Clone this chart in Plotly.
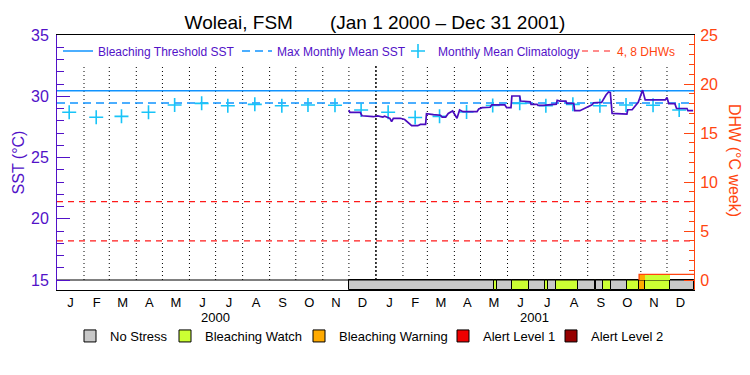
import pandas as pd
import plotly.graph_objects as go

# ---------------- data ----------------
sst_dates = [
    "2000-12-01", "2000-12-02", "2000-12-14", "2000-12-16", "2000-12-29",
    "2001-01-03", "2001-01-09", "2001-01-11", "2001-01-17", "2001-01-19",
    "2001-01-21", "2001-01-29", "2001-02-03", "2001-02-07", "2001-02-11",
    "2001-02-18", "2001-02-21", "2001-02-27", "2001-02-28", "2001-03-08",
    "2001-03-16", "2001-03-18", "2001-03-22", "2001-03-25", "2001-03-30",
    "2001-04-04", "2001-04-07", "2001-04-11", "2001-04-27", "2001-04-29",
    "2001-05-03", "2001-05-12", "2001-05-14", "2001-05-29", "2001-05-31",
    "2001-06-05", "2001-06-06", "2001-06-15", "2001-06-16", "2001-06-27",
    "2001-06-28", "2001-07-05", "2001-07-06", "2001-07-12", "2001-07-22",
    "2001-07-27", "2001-07-28", "2001-07-31", "2001-08-07", "2001-08-08",
    "2001-08-16", "2001-08-17", "2001-08-23", "2001-08-31", "2001-09-06",
    "2001-09-08", "2001-09-17", "2001-09-22", "2001-09-25", "2001-09-27",
    "2001-09-29", "2001-10-16", "2001-10-17", "2001-10-22", "2001-10-24",
    "2001-10-29", "2001-11-01", "2001-11-03", "2001-11-06", "2001-11-29",
    "2001-12-01", "2001-12-03", "2001-12-10", "2001-12-12", "2001-12-24",
    "2001-12-25", "2001-12-31",
]
sst_values = [
    28.88, 28.69, 28.69, 28.41, 28.33,
    28.40, 28.30, 28.38, 28.20, 27.92,
    28.20, 28.20, 28.10, 27.85, 27.60,
    27.60, 27.70, 27.70, 28.58, 28.50,
    28.45, 28.30, 28.30, 28.60, 28.80,
    28.20, 28.88, 28.74, 28.74, 28.96,
    29.07, 29.10, 29.29, 29.29, 29.07,
    29.07, 30.02, 30.02, 29.61, 29.55,
    29.34, 29.34, 29.25, 29.25, 29.30,
    29.35, 29.67, 29.60, 29.60, 29.42,
    29.42, 28.82, 28.82, 29.10, 29.30,
    29.47, 29.50, 30.10, 30.35, 30.30,
    28.60, 28.55, 28.90, 28.90, 29.10,
    29.50, 30.10, 30.50, 29.70, 29.70,
    29.90, 29.40, 29.40, 29.00, 29.00,
    28.82, 28.82,
]

clim_dates = [
    "2000-01-15", "2000-02-15", "2000-03-15", "2000-04-15", "2000-05-15", "2000-06-15",
    "2000-07-15", "2000-08-15", "2000-09-15", "2000-10-15", "2000-11-15", "2000-12-15",
    "2001-01-15", "2001-02-15", "2001-03-15", "2001-04-15", "2001-05-15", "2001-06-15",
    "2001-07-15", "2001-08-15", "2001-09-15", "2001-10-15", "2001-11-15", "2001-12-15",
]
clim_values = [
    28.69, 28.28, 28.36, 28.69, 29.29, 29.42, 29.23, 29.34, 29.23, 29.29, 29.26, 28.88,
    28.69, 28.26, 28.36, 28.72, 29.25, 29.42, 29.23, 29.34, 29.23, 29.29, 29.26, 28.88,
]

mmm_sst = 29.45
threshold_sst = 30.45
dhw_levels = [4, 8]

dhw_dates = ["2001-10-30", "2001-10-30", "2002-01-01"]
dhw_values = [0.0, 0.58, 0.58]

stress_edges = [
    "2000-12-01", "2001-05-16", "2001-05-20", "2001-06-06", "2001-06-26",
    "2001-07-14", "2001-07-17", "2001-07-27", "2001-08-21", "2001-09-09",
    "2001-09-11", "2001-09-19", "2001-09-28", "2001-10-16", "2001-10-30",
    "2001-11-06", "2001-12-05", "2002-01-01",
]
stress_levels = [
    "No Stress", "Bleaching Watch", "No Stress", "Bleaching Watch", "No Stress",
    "Bleaching Watch", "No Stress", "Bleaching Watch", "No Stress", "Bleaching Watch",
    "No Stress", "Bleaching Watch", "No Stress", "Bleaching Watch", "Bleaching Warning",
    "Bleaching Watch", "No Stress",
]

month_letters = ["J", "F", "M", "A", "M", "J", "J", "A", "S", "O", "N", "D"] * 2
years = ["2000", "2001"]

# ---------------- styles ----------------
FONT = "Liberation Sans, Arial, sans-serif"
PURPLE = "#5212c8"
SST_COLOR = "#4a0cbf"
BLUE = "#1094ff"
CYAN = "#18c4f8"
RED = "#ff1a1a"
ORANGE_RED = "#ff4510"
level_colors = {
    "No Stress": "#c8c8c8",
    "Bleaching Watch": "#ccff33",
    "Bleaching Warning": "#ffaa00",
    "Alert Level 1": "#ee0000",
    "Alert Level 2": "#960000",
}

SST_MIN, SST_MAX = 15 - 10 / 12.25, 35
DHW_MIN, DHW_MAX = -10 / 9.8, 25
X0, X1 = pd.Timestamp("2000-01-01"), pd.Timestamp("2002-01-01")

fig = go.Figure()

# month grid (dotted) drawn as lines
bounds = pd.date_range("2000-02-01", "2001-12-01", freq="MS")
gx, gy = [], []
for b in bounds:
    if b == pd.Timestamp("2001-01-01"):
        continue
    gx += [b, b, None]
    gy += [15, 32.5, None]
fig.add_trace(go.Scatter(x=gx, y=gy, mode="lines", line=dict(color="black", width=1, dash="1px,3px"),
                         showlegend=False, hoverinfo="skip"))
fig.add_trace(go.Scatter(x=[pd.Timestamp("2001-01-01")] * 2, y=[15, 32.5], mode="lines",
                         line=dict(color="black", width=1.5, dash="2px,2px"), showlegend=False, hoverinfo="skip"))

# stress bar
edges = pd.to_datetime(stress_edges)
leg_ids = {"No Stress": "legend5", "Bleaching Watch": "legend6", "Bleaching Warning": "legend7",
           "Alert Level 1": "legend8", "Alert Level 2": "legend9"}
for name, color in level_colors.items():
    idx = [i for i, l in enumerate(stress_levels) if l == name]
    xs = [edges[i] for i in idx]
    ws = [(edges[i + 1] - edges[i]).total_seconds() * 1000 for i in idx]
    if not idx:
        xs, ws = [None], [0]
    fig.add_trace(go.Bar(x=xs, y=[15 - SST_MIN] * len(xs), base=SST_MIN, width=ws, offset=0,
                         marker=dict(color=color, line=dict(color="black", width=1)),
                         name=name, legend=leg_ids[name], hoverinfo="skip"))

# baseline of stress bar
fig.add_trace(go.Scatter(x=[X0, X1], y=[15, 15], mode="lines", line=dict(color="black", width=1),
                         showlegend=False, hoverinfo="skip"))

# DHW fill coloured by stress (only for stress days)
for i, l in enumerate(stress_levels):
    if edges[i] >= pd.Timestamp(dhw_dates[1]) and l != "No Stress":
        fig.add_trace(go.Bar(x=[edges[i]], y=[dhw_values[1]], base=0, offset=0,
                             width=[(edges[i + 1] - edges[i]).total_seconds() * 1000],
                             marker=dict(color=level_colors[l], line=dict(width=0)),
                             yaxis="y2", showlegend=False, hoverinfo="skip"))

# reference lines
fig.add_trace(go.Scatter(x=[X0, X1], y=[threshold_sst] * 2, mode="lines",
                         line=dict(color=BLUE, width=1.5), name="Bleaching Threshold SST", legend="legend"))
fig.add_trace(go.Scatter(x=[X0, X1], y=[mmm_sst] * 2, mode="lines",
                         line=dict(color=BLUE, width=1.5, dash="8px,5px"), name="Max Monthly Mean SST",
                         legend="legend2"))
dx, dy = [], []
for v in dhw_levels:
    dx += [X0, X1, None]
    dy += [v, v, None]
fig.add_trace(go.Scatter(x=dx, y=dy, mode="lines", yaxis="y2",
                         line=dict(color=RED, width=1.2, dash="6px,5px"), name="4, 8 DHWs", legend="legend4"))

# climatology
fig.add_trace(go.Scatter(x=clim_dates, y=clim_values, mode="markers",
                         marker=dict(symbol="cross-thin", size=10, line=dict(color=CYAN, width=1.6)),
                         name="Monthly Mean Climatology", legend="legend3"))

# SST line
fig.add_trace(go.Scatter(x=sst_dates, y=sst_values, mode="lines", line=dict(color=SST_COLOR, width=1.7),
                         showlegend=False))

# DHW line
fig.add_trace(go.Scatter(x=dhw_dates, y=dhw_values, mode="lines", yaxis="y2",
                         line=dict(color=ORANGE_RED, width=1.3), showlegend=False))

# month tick positions (middle of each month)
mstarts = pd.date_range("2000-01-01", "2002-01-01", freq="MS")
mids = [mstarts[i] + (mstarts[i + 1] - mstarts[i]) / 2 for i in range(len(mstarts) - 1)]


def pxx(px):
    return (px - 57) / 637.0


def pyy(py):
    return (290 - py) / 255.0


legend_common = dict(orientation="h", xanchor="left", yanchor="middle", bgcolor="rgba(0,0,0,0)",
                     borderwidth=0, itemclick=False, itemdoubleclick=False)
top_y = pyy(51)
bot_y = pyy(336)

fig.update_layout(
    width=750, height=375,
    margin=dict(l=57, r=56, t=35, b=85, autoexpand=False),
    paper_bgcolor="white", plot_bgcolor="white",
    font=dict(family=FONT, color="black"),
    barmode="overlay", bargap=0,
    title=dict(text="Woleai, FSM\u00a0\u00a0\u00a0\u00a0\u00a0\u00a0\u00a0(Jan 1 2000 \u2013 Dec 31 2001)",
               x=0.5, xref="container", xanchor="center", y=1 - 22 / 375, yref="container",
               yanchor="middle", font=dict(size=19, color="black")),
    xaxis=dict(type="date", range=[X0, X1], tickvals=mids, ticktext=month_letters, ticks="",
               showgrid=False, zeroline=False, showline=True, mirror=True, linecolor="black", linewidth=1,
               tickfont=dict(size=13, color="black")),
    yaxis=dict(range=[SST_MIN, SST_MAX], tick0=15, dtick=5, ticks="inside", ticklen=13, tickwidth=1,
               tickcolor=PURPLE, minor=dict(dtick=1, tick0=0, ticks="inside", ticklen=7, tickcolor=PURPLE),
               showline=True, linecolor=PURPLE, linewidth=1, showgrid=False, zeroline=False,
               tickfont=dict(size=16, color=PURPLE), ticklabelstandoff=4,
               title=dict(text="SST (°C)", font=dict(size=16, color=PURPLE), standoff=2)),
    yaxis2=dict(range=[DHW_MIN, DHW_MAX], overlaying="y", side="right", tick0=0, dtick=5, ticks="inside",
                ticklen=10, tickwidth=1, tickcolor=ORANGE_RED,
                minor=dict(tickvals=list(range(0, 26)), ticks="inside", ticklen=5, tickcolor=ORANGE_RED),
                showline=True, linecolor=ORANGE_RED, linewidth=1, showgrid=False, zeroline=False,
                tickfont=dict(size=16, color=ORANGE_RED), ticklabelstandoff=2),
    legend=dict(x=pxx(58), y=top_y, font=dict(size=12, color=PURPLE), **legend_common),
    legend2=dict(x=pxx(237), y=top_y, font=dict(size=12, color=PURPLE), **legend_common),
    legend3=dict(x=pxx(398), y=top_y, font=dict(size=12, color=PURPLE), **legend_common),
    legend4=dict(x=pxx(577), y=top_y, font=dict(size=12, color=ORANGE_RED), **legend_common),
    legend5=dict(x=pxx(70), y=bot_y, font=dict(size=13, color="black"), **legend_common),
    legend6=dict(x=pxx(165), y=bot_y, font=dict(size=13, color="black"), **legend_common),
    legend7=dict(x=pxx(299), y=bot_y, font=dict(size=13, color="black"), **legend_common),
    legend8=dict(x=pxx(443), y=bot_y, font=dict(size=13, color="black"), **legend_common),
    legend9=dict(x=pxx(551), y=bot_y, font=dict(size=13, color="black"), **legend_common),
    showlegend=True,
)

# year labels
for y_lab, mid in zip(years, ["2000-07-01", "2001-07-02"]):
    fig.add_annotation(x=mid, y=pyy(317), xref="x", yref="paper", text=y_lab, showarrow=False,
                       font=dict(size=13, color="black"), yanchor="middle")

# right axis title (reads top-to-bottom)
fig.add_annotation(x=pxx(735), y=pyy(160), xref="paper", yref="paper", text="DHW (°C week)", textangle=90,
                   showarrow=False, font=dict(size=16, color=ORANGE_RED), xanchor="center", yanchor="middle")

fig.write_html("out.html", config={"displayModeBar": False},
               post_script="document.body.style.margin='0';document.body.style.padding='0';")
